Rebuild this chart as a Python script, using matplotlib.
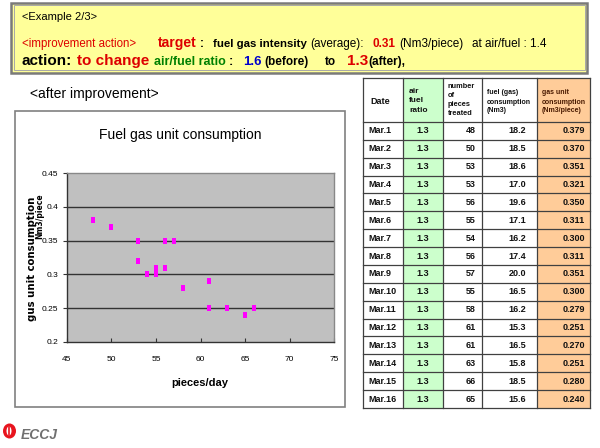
import matplotlib
matplotlib.use('Agg')
import matplotlib.pyplot as plt
from matplotlib.patches import Rectangle, Ellipse

# ---- chart data (as plotted in the scatter)
chart_pieces = [48, 50, 53, 53, 54, 55, 55, 56, 56, 57, 58, 61, 61, 63, 65, 66]
chart_unit = [0.38, 0.37, 0.35, 0.32, 0.30, 0.30, 0.31, 0.31, 0.35, 0.35,
              0.28, 0.29, 0.25, 0.25, 0.24, 0.25]
x_ticks = [45, 50, 55, 60, 65, 70, 75]
y_ticks = [0.2, 0.25, 0.3, 0.35, 0.4, 0.45]
y_tick_labels = ['0.2', '0.25', '0.3', '0.35', '0.4', '0.45']

# ---- table data
table_headers = ['Date', 'air\nfuel\nratio', 'number\nof\npieces\ntreated',
                 'fuel (gas)\nconsumption\n(Nm3)', 'gas unit\nconsumption\n(Nm3/piece)']
dates = ['Mar.1', 'Mar.2', 'Mar.3', 'Mar.4', 'Mar.5', 'Mar.6', 'Mar.7', 'Mar.8',
         'Mar.9', 'Mar.10', 'Mar.11', 'Mar.12', 'Mar.13', 'Mar.14', 'Mar.15', 'Mar.16']
air_fuel = [1.3, 1.3, 1.3, 1.3, 1.3, 1.3, 1.3, 1.3, 1.3, 1.3, 1.3, 1.3, 1.3, 1.3, 1.3, 1.3]
pieces = [48, 50, 53, 53, 56, 55, 54, 56, 57, 55, 58, 61, 61, 63, 66, 65]
fuel = [18.2, 18.5, 18.6, 17.0, 19.6, 17.1, 16.2, 17.4, 20.0, 16.5, 16.2, 15.3,
        16.5, 15.8, 18.5, 15.6]
gas_unit = [0.379, 0.370, 0.351, 0.321, 0.350, 0.311, 0.300, 0.311, 0.351, 0.300,
            0.279, 0.251, 0.270, 0.251, 0.280, 0.240]

RED = '#DD0000'
GREEN = '#008000'
BLUE = '#0000CC'
NARROW = ['Liberation Sans Narrow', 'Liberation Sans', 'DejaVu Sans']

plt.rcParams['font.family'] = ['Liberation Sans', 'DejaVu Sans']

W, H = 600, 448
fig = plt.figure(figsize=(W / 100, H / 100), dpi=100)
fig.patch.set_facecolor('white')
renderer = fig.canvas.get_renderer()

# background axes in pixel coordinates
bg = fig.add_axes([0, 0, 1, 1])
bg.set_xlim(0, W)
bg.set_ylim(H, 0)
bg.axis('off')

# ---- header box
bg.add_patch(Rectangle((11, 3), 576, 70, fc='#FFFF99', ec='#7A7A7A', lw=1.8))
bg.add_patch(Rectangle((13.5, 5.5), 571, 65, fc='none', ec='#A8A8A8', lw=0.7))

bg.text(22, 20, '<Example 2/3>', fontsize=8, va='baseline')

bg.text(22, 47, '<improvement action>', color=RED, fontsize=8.3, va='baseline')

# runs of the second line, chained one after the other: (text, colour, size, weight, gap after)
line2 = [
    ('target', RED, 10, 'bold', 3),
    (':', 'black', 8.5, 'bold', 9),
    ('fuel gas intensity', 'black', 8.2, 'bold', 4),
    ('(average):', 'black', 8.5, 'normal', 8),
    ('0.31', RED, 8.5, 'bold', 4),
    ('(Nm3/piece)', 'black', 8.5, 'normal', 9),
    ('at air/fuel : 1.4', 'black', 8.5, 'normal', 0),
]
x = 158
for s, c, fs, fw, gap in line2:
    t = bg.text(x, 47, s, color=c, fontsize=fs, fontweight=fw, va='baseline')
    x = t.get_window_extent(renderer).x1 + gap

line3 = [
    (22, 'action:', 'black', 11, 'bold'),
    (77, 'to change', RED, 11, 'bold'),
    (154, 'air/fuel ratio', GREEN, 9, 'bold'),
    (229, ':', 'black', 9, 'bold'),
    (243, '1.6', BLUE, 9.5, 'bold'),
    (264, '(before)', 'black', 8.5, 'bold'),
    (325, 'to', 'black', 8.5, 'bold'),
    (347, '1.3', RED, 11, 'bold'),
    (368, '(after),', 'black', 8.5, 'bold'),
]
for x, s, c, fs, fw in line3:
    bg.text(x, 65, s, color=c, fontsize=fs, fontweight=fw, va='baseline')

bg.text(30, 94, '<after improvement>', fontsize=10, va='center')

# ---- chart frame
bg.add_patch(Rectangle((15, 111), 330, 296, fc='white', ec='#808080', lw=1.2))
bg.text(180, 135, 'Fuel gas unit consumption', family=NARROW, fontsize=10,
        ha='center', va='center')
bg.text(32, 259, 'gus unit consumption', fontsize=7.3, fontweight='bold',
        rotation=90, ha='center', va='center', family=['DejaVu Sans'])
bg.text(40, 216, 'Nm3/piece', fontsize=5.5, fontweight='bold',
        rotation=90, ha='center', va='center', family=['DejaVu Sans'])

# ---- scatter chart
pl, pr, pt, pb = 66.7, 334.3, 173.3, 341.7
ax = fig.add_axes([pl / W, (H - pb) / H, (pr - pl) / W, (pb - pt) / H])
ax.set_facecolor('#C0C0C0')
rect_marker = [(-2, -3), (2, -3), (2, 3), (-2, 3), (-2, -3)]
ax.plot(chart_pieces, chart_unit, ls='none', marker=rect_marker, ms=4.4,
        mfc='#FF00FF', mec='#FF00FF', mew=0, zorder=3)
ax.set_xlim(45, 75)
ax.set_ylim(0.2, 0.45)
ax.set_xticks(x_ticks)
ax.set_xticklabels([str(v) for v in x_ticks], family=NARROW, fontsize=6)
ax.set_yticks(y_ticks)
ax.set_yticklabels(y_tick_labels, family=NARROW, fontsize=6)
ax.tick_params(axis='x', direction='in', length=3, pad=10, color='#333333')
ax.tick_params(axis='y', direction='out', length=3, pad=3, color='#333333')
for v in y_ticks[1:-1]:
    ax.axhline(v, color='#333333', lw=1.0, zorder=2)
for side in ['left', 'bottom']:
    ax.spines[side].set_color('#333333')
    ax.spines[side].set_linewidth(1.0)
for side in ['top', 'right']:
    ax.spines[side].set_color('#888888')
    ax.spines[side].set_linewidth(1.0)
ax.set_xlabel('pieces/day', family=NARROW, fontsize=8, fontweight='bold', va='center')
ax.xaxis.set_label_coords((200 - pl) / (pr - pl), -(383 - pb) / (pb - pt))

# ---- table
col_edges = [363, 403, 443, 482, 537, 590]
head_top, head_bot = 78, 122
row_h = (408 - head_bot) / len(dates)
col_fill = ['white', '#CCFFCC', 'white', 'white', '#FFCC99']
line_c = '#404040'

for j in range(5):
    x0, x1 = col_edges[j], col_edges[j + 1]
    bg.add_patch(Rectangle((x0, head_top), x1 - x0, 408 - head_top,
                           fc=col_fill[j], ec='none', zorder=1))
for x in col_edges:
    bg.plot([x, x], [head_top, 408], color=line_c, lw=0.9, zorder=2)
bg.plot([col_edges[0], col_edges[-1]], [head_top, head_top], color=line_c, lw=0.9, zorder=2)
for i in range(len(dates) + 1):
    y = head_bot + i * row_h
    bg.plot([col_edges[0], col_edges[-1]], [y, y], color=line_c, lw=0.9, zorder=2)

hdr_style = [
    (370, 102, 6.5, 1.2, '#111111'),
    (409, 101, 6.0, 1.55, '#111111'),
    (448, 100, 5.3, 1.35, '#111111'),
    (487, 102, 5.0, 1.4, '#111111'),
    (542, 102, 5.0, 1.4, '#4A1A00'),
]
for s, (x, y, fs, lsp, c) in zip(table_headers, hdr_style):
    bg.text(x, y, s, fontsize=fs, fontweight='bold', color=c, ha='left',
            va='center', linespacing=lsp, zorder=3)

for i in range(len(dates)):
    yc = head_bot + (i + 0.5) * row_h
    kw = dict(fontsize=6.5, fontweight='bold', color='#111111', va='center', zorder=3)
    bg.text(368, yc, dates[i], ha='left', **kw)
    bg.text(423, yc, f'{air_fuel[i]:.1f}', ha='center', **kw)
    bg.text(476, yc, f'{pieces[i]}', ha='right', **kw)
    bg.text(526, yc, f'{fuel[i]:.1f}', ha='right', **kw)
    bg.text(585, yc, f'{gas_unit[i]:.3f}', ha='right', **kw)

# ---- logo
bg.add_patch(Ellipse((9.5, 431), 13, 15, fc='#E8141E', ec='none'))
bg.add_patch(Ellipse((9.0, 431), 5, 9, fc='white', ec='none'))
bg.plot([9.0, 9.0], [427, 435], color='#E8141E', lw=1.2)
bg.text(21, 435, 'ECCJ', fontsize=10, fontweight='bold', style='italic',
        color='#707070', va='center')

fig.savefig('out.png', dpi=100)
